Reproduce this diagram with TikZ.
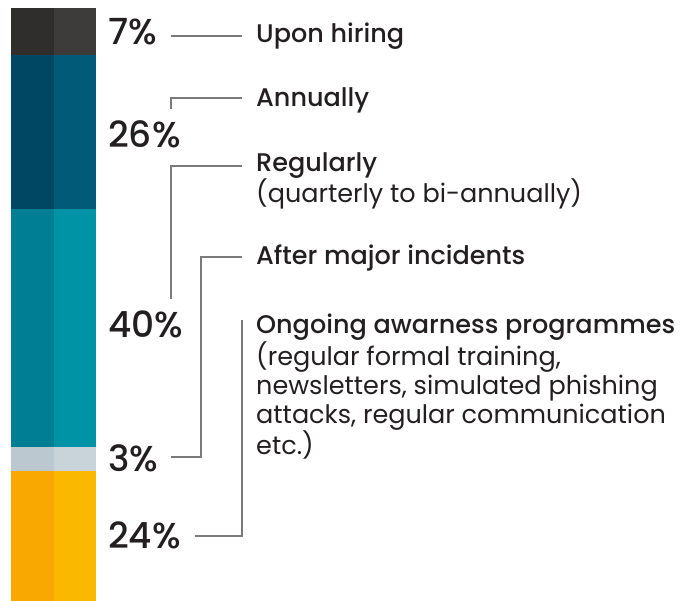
\documentclass[tikz,border=0pt]{standalone}
\usepackage{fontspec}
\setmainfont{Poppins}[BoldFont={Poppins Medium}]
\definecolor{txt}{HTML}{231F20}
\definecolor{ln}{HTML}{7A7A7A}
\definecolor{aL}{HTML}{2F2E2C}\definecolor{aR}{HTML}{3D3C3A}
\definecolor{bL}{HTML}{004763}\definecolor{bR}{HTML}{005A78}
\definecolor{cL}{HTML}{007F94}\definecolor{cR}{HTML}{0093A6}
\definecolor{dL}{HTML}{BCC8CF}\definecolor{dR}{HTML}{C9D4DA}
\definecolor{eL}{HTML}{F8A800}\definecolor{eR}{HTML}{FBB800}
\tikzset{
  pct/.style={anchor=base west,inner sep=0pt,text=txt,font=\fontsize{36}{40}\selectfont\bfseries},
  lab/.style={anchor=base west,inner sep=0pt,text=txt,font=\fontsize{25.5}{29}\selectfont,align=left},
  conn/.style={draw=ln,line width=1.3pt}
}
\begin{document}
\begin{tikzpicture}[x=1pt,y=-1pt]
\useasboundingbox (0,0) rectangle (700,601);
% bar
\fill[aL] (11,8) rectangle (54,55);   \fill[aR] (54,8) rectangle (96,55);
\fill[bL] (11,55) rectangle (54,209); \fill[bR] (54,55) rectangle (96,209);
\fill[cL] (11,209) rectangle (54,447);\fill[cR] (54,209) rectangle (96,447);
\fill[dL] (11,447) rectangle (54,471);\fill[dR] (54,447) rectangle (96,471);
\fill[eL] (11,471) rectangle (54,601);\fill[eR] (54,471) rectangle (96,601);
% percentages
\node[pct] (p1) at (108,45) {7\%};
\node[pct] (p2) at (108,148) {26\%};
\node[pct] (p3) at (108,337) {40\%};
\node[pct] (p4) at (108,471) {3\%};
\node[pct] (p5) at (108,548) {24\%};
% labels
\node[lab] (l1) at (256,43) {\textbf{Upon hiring}};
\node[lab] (l2) at (256,107) {\textbf{Annually}};
\node[lab,anchor=north west] (l3) at (256,152) {\textbf{Regularly}\\(quarterly to bi-annually)};
\node[lab] (l4) at (256,265) {\textbf{After major incidents}};
\node[lab,anchor=north west] (l5) at (256,313.5) {\textbf{Ongoing awarness programmes}\\(regular formal training,\\newsletters, simulated phishing\\attacks, regular communication\\etc.)};
% connector coordinates
\coordinate (a1) at (171,36);  \coordinate (b1) at (242,36);
\coordinate (a2) at (171,109); \coordinate (b2) at (242,98);
\coordinate (a3) at (171,299); \coordinate (b3) at (242,166);
\coordinate (a4) at (171,457); \coordinate (k4) at (201,457); \coordinate (b4) at (242,257);
\coordinate (a5) at (195,536); \coordinate (k5) at (242,536); \coordinate (b5) at (242,320);
\draw[conn] (a1) -- (b1);
\draw[conn] (a2) |- (b2);
\draw[conn] (a3) |- (b3);
\draw[conn] (a4) -- (k4) |- (b4);
\draw[conn] (a5) -- (k5) -- (b5);
\end{tikzpicture}
\end{document}
